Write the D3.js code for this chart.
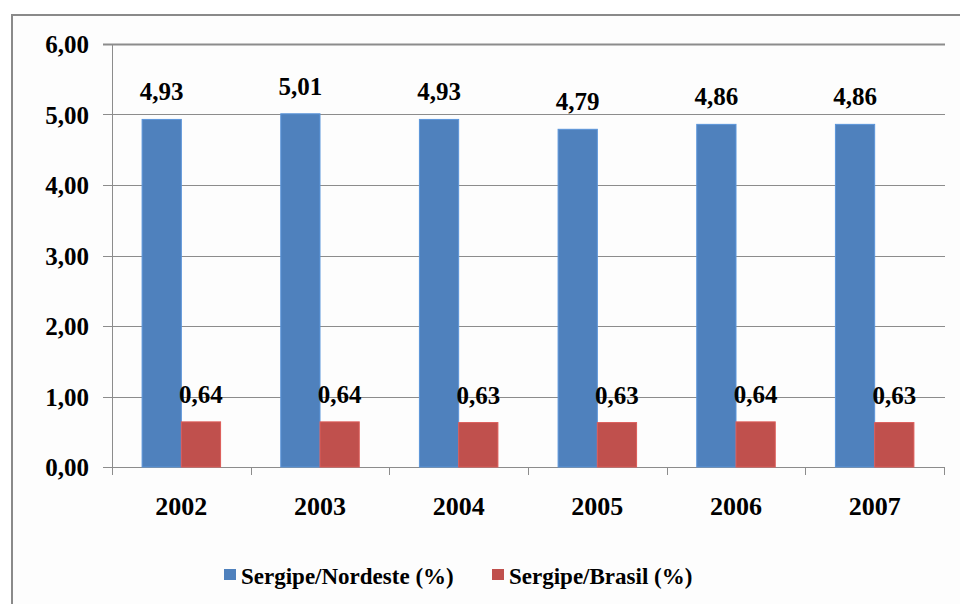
<!DOCTYPE html>
<html>
<head>
<meta charset="utf-8">
<script src="https://cdn.jsdelivr.net/npm/d3@7"></script>
<style>
  body { margin: 0; background: #fff; }
</style>
</head>
<body>
<div id="chart"></div>
<script>
// data
const years = ["2002", "2003", "2004", "2005", "2006", "2007"];
const nordeste = [4.93, 5.01, 4.93, 4.79, 4.86, 4.86];
const brasil = [0.64, 0.64, 0.63, 0.63, 0.64, 0.63];
const seriesNames = ["Sergipe/Nordeste (%)", "Sergipe/Brasil (%)"];
const yTicks = [0, 1, 2, 3, 4, 5, 6];

const W = 960, H = 604;
const colors = ["#4f81bd", "#c0504d"];
const fontFam = "'Liberation Serif', 'DejaVu Serif', serif";
const fmt = v => d3.format(".2f")(v).replace(".", ",");

const svg = d3.select("#chart").append("svg")
  .attr("width", W)
  .attr("height", H)
  .attr("font-family", fontFam)
  .attr("font-weight", "bold");

// outer frame
svg.append("rect")
  .attr("x", 12).attr("y", 15)
  .attr("width", W + 10).attr("height", H + 10)
  .attr("fill", "#fdfdfd")
  .attr("stroke", "#8a8a8a")
  .attr("stroke-width", 2);

const plot = {left: 112, right: 944, top: 44, bottom: 467};

const x = d3.scaleBand()
  .domain(years)
  .range([plot.left, plot.right])
  .paddingInner(0.434)
  .paddingOuter(0.217);
// full category slots for ticks
const xSlot = d3.scaleBand().domain(years).range([plot.left, plot.right]);

const xSub = d3.scaleBand()
  .domain([0, 1])
  .range([0, x.bandwidth()]);

const y = d3.scaleLinear()
  .domain([0, 6])
  .range([plot.bottom, plot.top]);

// gridlines
svg.append("g").selectAll("line")
  .data(yTicks)
  .join("line")
  .attr("x1", plot.left - 9)
  .attr("x2", plot.right + 1)
  .attr("y1", d => Math.round(y(d)) + 0.5)
  .attr("y2", d => Math.round(y(d)) + 0.5)
  .attr("stroke", "#8c8c8c")
  .attr("stroke-width", d => d === 6 ? 2 : 1);

// y axis line
svg.append("line")
  .attr("x1", plot.left + 0.5).attr("x2", plot.left + 0.5)
  .attr("y1", plot.top).attr("y2", plot.bottom)
  .attr("stroke", "#8c8c8c");

// x tick marks at category boundaries
const bounds = years.map(d => xSlot(d)).concat([plot.right]);
svg.append("g").selectAll("line")
  .data(bounds)
  .join("line")
  .attr("x1", d => Math.round(d) + 0.5)
  .attr("x2", d => Math.round(d) + 0.5)
  .attr("y1", plot.bottom)
  .attr("y2", plot.bottom + 8)
  .attr("stroke", "#8c8c8c");

// y labels
svg.append("g").selectAll("text")
  .data(yTicks)
  .join("text")
  .attr("x", 89)
  .attr("y", d => y(d) + 9)
  .attr("text-anchor", "end")
  .attr("font-size", 25)
  .text(d => fmt(d));

// bars
const series = [nordeste, brasil];
series.forEach((vals, s) => {
  const g = svg.append("g");
  g.selectAll("rect")
    .data(vals)
    .join("rect")
    .attr("x", (d, i) => x(years[i]) + xSub(s))
    .attr("y", d => y(d))
    .attr("width", xSub.bandwidth())
    .attr("height", d => plot.bottom - y(d))
    .attr("fill", colors[s])
    .attr("stroke", d3.color(colors[s]).brighter(0.4))
    .attr("stroke-width", 1);
  g.selectAll("text")
    .data(vals)
    .join("text")
    .attr("x", (d, i) => x(years[i]) + xSub(s) + xSub.bandwidth() / 2)
    .attr("y", d => y(d) - 19)
    .attr("text-anchor", "middle")
    .attr("font-size", 25)
    .text(d => fmt(d));
});

// x labels
svg.append("g").selectAll("text")
  .data(years)
  .join("text")
  .attr("x", d => xSlot(d) + xSlot.bandwidth() / 2)
  .attr("y", 515)
  .attr("text-anchor", "middle")
  .attr("font-size", 26)
  .text(d => d);

// legend
const legendX = [224, 492];
const legend = svg.append("g");
seriesNames.forEach((name, i) => {
  legend.append("rect")
    .attr("x", legendX[i]).attr("y", 569)
    .attr("width", 12).attr("height", 11)
    .attr("fill", colors[i]);
  legend.append("text")
    .attr("x", legendX[i] + 17)
    .attr("y", 584)
    .attr("font-size", 23)
    .text(name);
});
</script>
</body>
</html>
